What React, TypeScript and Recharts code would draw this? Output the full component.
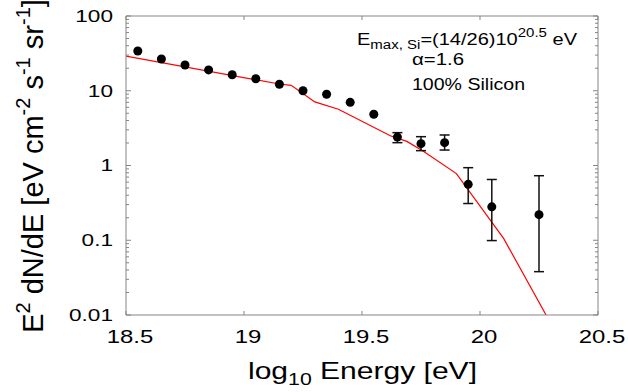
import { ComposedChart, Line, Scatter, ErrorBar, XAxis, YAxis, ReferenceLine } from "recharts";

// measured bins without visible error bars
const binEnergy = [18.55, 18.65, 18.75, 18.85, 18.95, 19.05, 19.15, 19.25, 19.35, 19.45, 19.55];
const binFlux = [34, 26.6, 22.1, 19.0, 16.4, 14.5, 12.2, 10.0, 8.96, 7.0, 4.84];

// high energy bins with error bars
const errEnergy = [19.65, 19.75, 19.85, 19.95, 20.05, 20.25];
const errFlux = [2.4, 1.96, 2.02, 0.56, 0.28, 0.22];
const errUpper = [2.75, 2.43, 2.56, 0.935, 0.65, 0.73];
const errLower = [2.02, 1.58, 1.61, 0.31, 0.099, 0.038];

// model curve (100% silicon)
const modelEnergy = [18.5, 19.15, 19.2, 19.3, 19.4, 19.62, 19.69, 19.76, 19.9, 20.1, 20.28];
const modelFlux = [29, 12.3, 11.8, 7.1, 5.65, 2.5, 2.1, 1.55, 0.78, 0.106, 0.01];

const xTicks = [18.5, 19, 19.5, 20, 20.5];
const yMajorTicks = [0.01, 0.1, 1, 10, 100];
const yTicks = yMajorTicks.flatMap((d, i) =>
  i < yMajorTicks.length - 1 ? [d, ...[2, 3, 4, 5, 6, 7, 8, 9].map(m => +(m * d).toPrecision(3))] : [d]
);

const W = 628;
const H = 392;
const PLOT_L = 126;
const PLOT_R = 598;
const PLOT_T = 16;
const PLOT_B = 315;
const AXIS = "#858585";
const FONT = "'Liberation Sans', Arial, Helvetica, sans-serif";

const pointData = binEnergy.map((x, i) => ({ x, y: binFlux[i] }));
const errData = errEnergy.map((x, i) => ({
  x,
  y: errFlux[i],
  err: [errFlux[i] - errLower[i], errUpper[i] - errFlux[i]],
}));
const modelData = modelEnergy.map((x, i) => ({ x, y: modelFlux[i] }));

const YTick = (props: any) => {
  const { y, payload } = props;
  const v = payload.value;
  const major = yMajorTicks.includes(v);
  const len = major ? 5 : 3;
  return (
    <g>
      <line x1={PLOT_L} x2={PLOT_L + len} y1={y} y2={y} stroke={AXIS} />
      <line x1={PLOT_R} x2={PLOT_R - len} y1={y} y2={y} stroke={AXIS} />
      {major && (
        <text
          transform={`translate(${PLOT_L - 13},${y}) scale(1.33,1)`}
          textAnchor="end"
          dominantBaseline="central"
          fontFamily={FONT}
          fontSize={17}
          fill="#000"
        >
          {String(v)}
        </text>
      )}
    </g>
  );
};

const XTick = (props: any) => {
  const { x, payload } = props;
  return (
    <g>
      <line x1={x} x2={x} y1={PLOT_B} y2={PLOT_B - 4} stroke={AXIS} />
      <line x1={x} x2={x} y1={PLOT_T} y2={PLOT_T + 4} stroke={AXIS} />
      <text
        transform={`translate(${x + 4},${PLOT_B + 22}) scale(1.33,1)`}
        textAnchor="middle"
        dominantBaseline="central"
        fontFamily={FONT}
        fontSize={18}
        fill="#000"
      >
        {String(payload.value)}
      </text>
    </g>
  );
};

const App = () => {
  return (
    <div style={{ position: "absolute", left: 0, top: 0, width: W, height: H, background: "#fff" }}>
      <ComposedChart width={W} height={H} margin={{ top: PLOT_T, right: W - PLOT_R, left: 0, bottom: 0 }}>
        <XAxis
          type="number"
          dataKey="x"
          domain={[18.5, 20.5]}
          ticks={xTicks}
          interval={0}
          height={H - PLOT_B}
          tick={<XTick />}
          tickLine={false}
          tickSize={0}
          axisLine={{ stroke: AXIS }}
          allowDataOverflow
        />
        <YAxis
          type="number"
          scale="log"
          domain={[0.01, 100]}
          ticks={yTicks}
          interval={0}
          width={PLOT_L}
          tick={<YTick />}
          tickLine={false}
          tickSize={0}
          axisLine={{ stroke: AXIS }}
          allowDataOverflow
        />
        <ReferenceLine y={100} stroke={AXIS} />
        <ReferenceLine x={20.5} stroke={AXIS} />
        <Line
          data={modelData}
          dataKey="y"
          type="linear"
          stroke="#ff0000"
          strokeWidth={1.2}
          dot={false}
          isAnimationActive={false}
        />
        <Scatter data={pointData} dataKey="y" fill="#000" shape="circle" isAnimationActive={false} />
        <Scatter data={errData} dataKey="y" fill="#000" shape="circle" isAnimationActive={false}>
          <ErrorBar dataKey="err" direction="y" width={5} stroke="#111" strokeWidth={1.5} />
        </Scatter>
      </ComposedChart>
      <svg
        width={W}
        height={H}
        style={{ position: "absolute", left: 0, top: 0, pointerEvents: "none" }}
        fontFamily={FONT}
      >
        <text
          transform="translate(43,166) rotate(-90)"
          textAnchor="middle"
          fontSize={29}
          fill="#000"
        >
          E<tspan fontSize={20} dy={-13}>2</tspan>
          <tspan dy={13}> dN/dE [eV cm</tspan>
          <tspan fontSize={20} dy={-13}>-2</tspan>
          <tspan dy={13}> s</tspan>
          <tspan fontSize={20} dy={-13}>-1</tspan>
          <tspan dy={13}> sr</tspan>
          <tspan fontSize={20} dy={-13}>-1</tspan>
          <tspan dy={13}>]</tspan>
        </text>
        <text x={248} y={379} fontSize={24} fill="#000" textLength={229} lengthAdjust="spacingAndGlyphs">
          log<tspan fontSize={17} dy={6}>10</tspan>
          <tspan dy={-6}> Energy [eV]</tspan>
        </text>
        <text x={357} y={45} fontSize={16} fill="#000" textLength={220} lengthAdjust="spacingAndGlyphs">
          E<tspan fontSize={12} dy={4}>max, Si</tspan>
          <tspan dy={-4}>=(14/26)10</tspan>
          <tspan fontSize={12} dy={-8}>20.5</tspan>
          <tspan dy={8}> eV</tspan>
        </text>
        <text x={412} y={65} fontSize={16} fill="#000" textLength={52} lengthAdjust="spacingAndGlyphs">
          α=1.6
        </text>
        <text x={412} y={90} fontSize={16} fill="#000" textLength={113} lengthAdjust="spacingAndGlyphs">
          100% Silicon
        </text>
      </svg>
    </div>
  );
};

export default App;
